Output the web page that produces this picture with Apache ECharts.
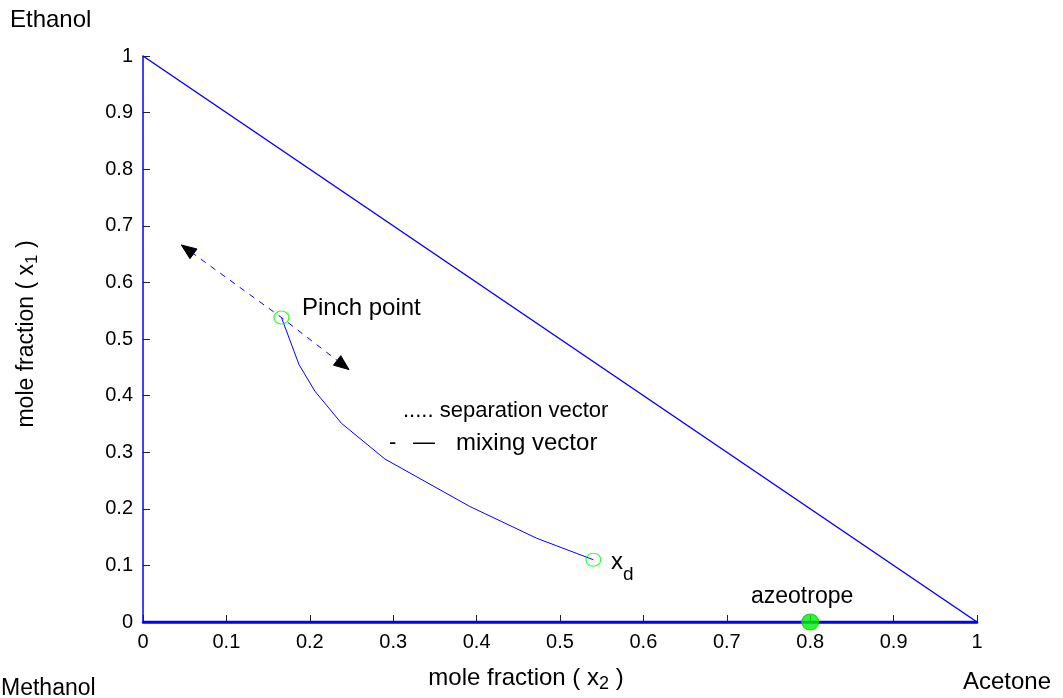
<!DOCTYPE html>
<html><head><meta charset="utf-8">
<script src="https://cdn.jsdelivr.net/npm/echarts@6/dist/echarts.min.js"></script>
<style>html,body{margin:0;padding:0;background:#fff}#c{width:1063px;height:698px}</style>
</head><body><div id="c"></div>
<script>
var xTicks = [0,0.1,0.2,0.3,0.4,0.5,0.6,0.7,0.8,0.9,1];
var yTicks = [0,0.1,0.2,0.3,0.4,0.5,0.6,0.7,0.8,0.9,1];
var triangleEdge = [[0,1],[1,0]];
var baseEdge = [[0,0],[1,0]];
var profileX = [0.166,0.187,0.206,0.238,0.290,0.392,0.472,0.540];
var profileY = [0.538,0.455,0.408,0.351,0.288,0.204,0.148,0.110];
var pinchPoint = [0.166,0.538];
var distillate = [0.540,0.110];
var azeotrope = [0.8,0];
var mixingX = [0.046,0.166,0.247];
var mixingY = [0.666,0.538,0.446];

var FONT = 'Liberation Sans, Arial, sans-serif';
var chart = echarts.init(document.getElementById('c'));
var profile = profileX.map(function(x,i){return [x,profileY[i]];});
var mixing = mixingX.map(function(x,i){return [x,mixingY[i]];});
var n = mixing.length;
var arrows = [
  [mixing[0][0],mixing[0][1],mixing[1][0],mixing[1][1]],
  [mixing[n-1][0],mixing[n-1][1],mixing[n-2][0],mixing[n-2][1]]
];
function fmt(v){return String(Math.round(v*10)/10);}
function txt(x,y,s,size){
  return {type:'text',x:x,y:y,style:{text:s,font:size+'px '+FONT,fill:'#000',verticalAlign:'middle',align:'left'}};
}
chart.setOption({
  animation:false,
  grid:{left:143,right:86,top:56,bottom:75},
  xAxis:{type:'value',min:0,max:1,interval:0.1,
    axisLine:{show:true,onZero:false,lineStyle:{color:'#0000ff',width:2.5}},
    axisTick:{show:true,inside:true,length:7,lineStyle:{color:'#222'}},
    splitLine:{show:false},
    axisLabel:{color:'#000',fontFamily:FONT,fontSize:20,margin:10,formatter:fmt},
    name:'mole fraction ( x{s|2} )',nameLocation:'middle',nameGap:41,
    nameTextStyle:{color:'#000',fontFamily:FONT,fontSize:24,padding:[0,68,0,0],
      rich:{s:{fontFamily:FONT,fontSize:18,color:'#000',padding:[12,0,0,0]}}}
  },
  yAxis:{type:'value',min:0,max:1,interval:0.1,
    axisLine:{show:true,onZero:false,lineStyle:{color:'#0000ff',width:1.5}},
    axisTick:{show:true,inside:true,length:7,lineStyle:{color:'#222'}},
    splitLine:{show:false},
    axisLabel:{color:'#000',fontFamily:FONT,fontSize:20,margin:10,formatter:fmt},
    name:'mole fraction ( x{s|1} )',nameLocation:'middle',nameGap:102,nameRotate:90,
    nameTextStyle:{color:'#000',fontFamily:FONT,fontSize:23,padding:[0,0,0,10],
      rich:{s:{fontFamily:FONT,fontSize:17,color:'#000',padding:[12,0,0,0]}}}
  },
  series:[
    {type:'line',data:triangleEdge,symbol:'none',lineStyle:{color:'#0000ff',width:1.5},z:2},
    {type:'line',data:baseEdge,symbol:'none',lineStyle:{color:'#0000ff',width:2.5},z:2},
    {type:'line',data:profile,symbol:'none',lineStyle:{color:'#0000ff',width:1},z:3},
    {type:'line',data:mixing,symbol:'none',lineStyle:{color:'#0000ff',width:1,type:[6,6]},z:3},
    {type:'custom',data:arrows,z:5,renderItem:function(params,api){
      var t=api.coord([api.value(0),api.value(1)]);
      var f=api.coord([api.value(2),api.value(3)]);
      var dx=t[0]-f[0],dy=t[1]-f[1],L=Math.sqrt(dx*dx+dy*dy);
      var ux=dx/L,uy=dy/L,len=15,hw=6;
      var bx=t[0]-ux*len,by=t[1]-uy*len;
      return {type:'polygon',shape:{points:[t,[bx-uy*hw,by+ux*hw],[bx+uy*hw,by-ux*hw]]},
        style:{fill:'#000',stroke:'#000'}};
    }},
    {type:'scatter',data:[pinchPoint,distillate],symbol:'circle',symbolSize:[15,13],
      itemStyle:{color:'transparent',borderColor:'#00ff00',borderWidth:1.2},z:6},
    {type:'scatter',data:[azeotrope],symbol:'circle',symbolSize:[17,16],
      itemStyle:{color:'#00f000',borderColor:'#00d000',borderWidth:1},z:6}
  ],
  graphic:[
    txt(10,20,'Ethanol',24),
    txt(1,689,'Methanol',23),
    txt(963,682,'Acetone',24),
    txt(302,308,'Pinch point',24),
    txt(611,562,'x',24),
    txt(623,575,'d',19),
    txt(751,597,'azeotrope',23),
    txt(403,411,'..... separation vector',22),
    txt(389,443,'-',22),
    txt(413,443,'\u2014',22),
    txt(456,443,'mixing vector',24)
  ]
});
</script></body></html>
